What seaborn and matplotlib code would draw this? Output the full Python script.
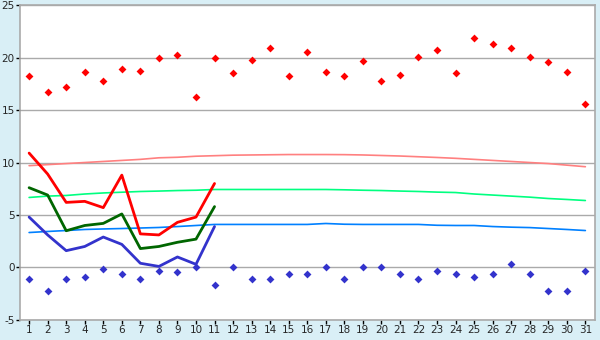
import numpy as np
import pandas as pd
import matplotlib
matplotlib.use("Agg")
import matplotlib.pyplot as plt
import seaborn as sns

# ================= Data =================
days = list(range(1, 32))

record_max = [18.2, 16.7, 17.2, 18.6, 17.8, 18.9, 18.7, 20.0, 20.2, 16.2,
              20.0, 18.5, 19.8, 20.9, 18.2, 20.5, 18.6, 18.2, 19.7, 17.8,
              18.3, 20.1, 20.7, 18.5, 21.9, 21.25, 20.9, 20.1, 19.6, 18.6, 15.6]
record_min = [-1.1, -2.2, -1.1, -0.9, -0.1, -0.6, -1.1, -0.3, -0.4, 0.0,
              -1.7, 0.0, -1.1, -1.1, -0.6, -0.6, 0.0, -1.1, 0.0, 0.0,
              -0.6, -1.1, -0.3, -0.6, -0.9, -0.6, 0.3, -0.6, -2.2, -2.2, -0.3]

obs_days = list(range(1, 12))
obs_max = [10.9, 8.9, 6.2, 6.3, 5.7, 8.8, 3.2, 3.1, 4.3, 4.8, 8.0]
obs_avg = [7.6, 6.9, 3.5, 4.0, 4.2, 5.1, 1.8, 2.0, 2.4, 2.7, 5.8]
obs_min = [4.8, 3.1, 1.6, 2.0, 2.9, 2.2, 0.4, 0.1, 1.0, 0.3, 3.9]

normal_max = [9.7, 9.8, 9.9, 10.0, 10.1, 10.2, 10.3, 10.45, 10.5, 10.6,
              10.65, 10.7, 10.72, 10.74, 10.76, 10.76, 10.76, 10.75, 10.72, 10.67,
              10.62, 10.55, 10.48, 10.4, 10.3, 10.2, 10.1, 10.0, 9.9, 9.75, 9.6]
normal_avg = [6.67, 6.8, 6.86, 7.0, 7.1, 7.17, 7.24, 7.28, 7.33, 7.36,
              7.43, 7.43, 7.43, 7.43, 7.43, 7.43, 7.43, 7.4, 7.36, 7.33,
              7.28, 7.24, 7.18, 7.14, 7.0, 6.9, 6.8, 6.7, 6.57, 6.48, 6.38]
normal_min = [3.33, 3.43, 3.52, 3.62, 3.67, 3.71, 3.76, 3.81, 3.9, 4.0,
              4.1, 4.1, 4.1, 4.1, 4.1, 4.1, 4.19, 4.12, 4.1, 4.1,
              4.1, 4.1, 4.02, 4.0, 4.0, 3.9, 3.84, 3.8, 3.71, 3.62, 3.52]

df_rec = pd.DataFrame({"day": days, "rmax": record_max, "rmin": record_min,
                       "nmax": normal_max, "navg": normal_avg, "nmin": normal_min})
df_obs = pd.DataFrame({"day": obs_days, "max": obs_max, "avg": obs_avg, "min": obs_min})

# ================= Plot =================
sns.set_style("white")
plt.rcParams['font.family'] = ['DejaVu Sans']
plt.rcParams['axes.unicode_minus'] = False

BG = "#D9EFF6"
GRID = "#AAAAAA"

fig = plt.figure(figsize=(6, 3.4), dpi=100, facecolor=BG)
ax = fig.add_axes([0.034, 0.059, 0.958, 0.926])
ax.set_facecolor("white")

# normals
sns.lineplot(data=df_rec, x="day", y="nmax", ax=ax, color="#FF8080", lw=1.2)
sns.lineplot(data=df_rec, x="day", y="navg", ax=ax, color="#00FF80", lw=1.2)
sns.lineplot(data=df_rec, x="day", y="nmin", ax=ax, color="#0080FF", lw=1.2)

# observed
sns.lineplot(data=df_obs, x="day", y="max", ax=ax, color="#FF0000", lw=2.0)
sns.lineplot(data=df_obs, x="day", y="avg", ax=ax, color="#006600", lw=2.0)
sns.lineplot(data=df_obs, x="day", y="min", ax=ax, color="#3333CC", lw=2.0)

# records
sns.scatterplot(data=df_rec, x="day", y="rmax", ax=ax, color="#FF0000",
                marker="D", s=16, linewidth=0)
sns.scatterplot(data=df_rec, x="day", y="rmin", ax=ax, color="#3333CC",
                marker="D", s=16, linewidth=0)

ax.set_xlim(0.53, 31.53)
ax.set_ylim(-5, 25)
ax.set_xticks(days)
ax.set_yticks(range(-5, 26, 5))
ax.yaxis.grid(True, color=GRID, lw=1)
ax.set_axisbelow(True)
ax.set_xlabel("")
ax.set_ylabel("")
for s in ax.spines.values():
    s.set_color(GRID)
    s.set_linewidth(1.2)
ax.tick_params(axis="both", length=3, width=1, color="black",
               labelsize=7.5, pad=1, direction="out", left=True, bottom=True)

fig.savefig("out.png", dpi=100, facecolor=BG)
